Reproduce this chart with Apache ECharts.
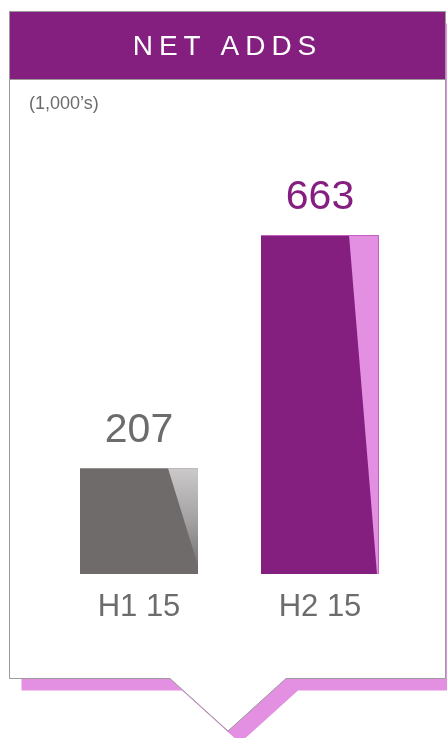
<!DOCTYPE html>
<html>
<head>
<meta charset="utf-8">
<title>Net Adds</title>
<script src="https://cdn.jsdelivr.net/npm/echarts@6/dist/echarts.min.js"></script>
<style>
  html, body { margin: 0; padding: 0; background: #ffffff; }
  #chart { width: 447px; height: 738px; }
</style>
</head>
<body>
<div id="chart"></div>
<script>
// Half-year net subscriber additions, in thousands
const categories = ['H1 15', 'H2 15'];
const netAdds = [207, 663];
const titleText = 'NET ADDS';
const unitText = '(1,000\u2019s)';

// Styling
const FONT = '"Liberation Sans", Arial, Helvetica, sans-serif';
const PURPLE = '#841F80';
const PINK = '#E38FE2';
const GREY_TEXT = '#6E6B6B';
const barColors = ['#6F6B6B', PURPLE];
const labelColors = [GREY_TEXT, PURPLE];
const BAR_W = 118;

const chart = echarts.init(document.getElementById('chart'), null, { renderer: 'canvas' });

// Callout outline: box with a downward pointer
const L = 9.5, R = 445.5, T = 11.5, B = 678.5;
const tipX = 228, tipY = 731, halfTip = 58;
function calloutPoints(dx, dy) {
  return [
    [L + dx, T + dy], [R + dx, T + dy], [R + dx, B + dy],
    [tipX + halfTip + dx, B + dy], [tipX + dx, tipY + dy], [tipX - halfTip + dx, B + dy],
    [L + dx, B + dy]
  ];
}

// Letter-spaced header title, laid out glyph by glyph
const titleSize = 28, titleSpacing = 6;
const measure = document.createElement('canvas').getContext('2d');
measure.font = titleSize + 'px ' + FONT;
const chars = titleText.split('');
const widths = chars.map(c => measure.measureText(c).width);
const totalW = widths.reduce((a, b) => a + b, 0) + titleSpacing * (chars.length - 1);
let cursor = (L + R) / 2 - 3 - totalW / 2;
const titleGlyphs = chars.map((c, i) => {
  const el = {
    type: 'text', x: cursor, y: 47, z: 5, silent: true,
    style: {
      text: c, fill: '#ffffff', font: titleSize + 'px ' + FONT,
      textAlign: 'left', textVerticalAlign: 'middle', align: 'left', verticalAlign: 'middle'
    }
  };
  cursor += widths[i] + titleSpacing;
  return el;
});

// Glossy sheen drawn over each bar
function renderSheen(params, api) {
  const idx = api.value(0);
  const top = api.coord([idx, api.value(1)]);
  const base = api.coord([idx, 0]);
  const left = top[0] - BAR_W / 2, right = top[0] + BAR_W / 2;
  const h = base[1] - top[1];
  if (idx === 0) {
    return {
      type: 'polygon',
      shape: { points: [[left + 88, top[1]], [right, top[1]], [right, top[1] + h * 0.92]] },
      style: {
        fill: new echarts.graphic.LinearGradient(0, 0, 0, 1, [
          { offset: 0, color: '#CBC9CA' },
          { offset: 0.55, color: '#A3A0A1' },
          { offset: 1, color: '#767373' }
        ])
      }
    };
  }
  return {
    type: 'group',
    children: [
      {
        type: 'polygon',
        shape: { points: [[left + 88, top[1]], [right, top[1]], [right, base[1]], [left + 116, base[1]]] },
        style: { fill: PINK }
      },
      {
        type: 'polyline',
        shape: { points: [[left, top[1] + 0.5], [right - 0.5, top[1] + 0.5], [right - 0.5, base[1]]] },
        style: { stroke: '#C561C2', lineWidth: 1, fill: null }
      }
    ]
  };
}

const option = {
  animation: false,
  backgroundColor: '#ffffff',
  grid: { left: 48.5, right: 36.5, top: 165, bottom: 164 },
  xAxis: {
    type: 'category',
    z: 10,
    data: categories,
    axisLine: { show: false },
    axisTick: { show: false },
    axisLabel: {
      show: true, interval: 0, hideOverlap: false,
      color: GREY_TEXT, fontSize: 31, fontFamily: FONT, margin: 18
    }
  },
  yAxis: { type: 'value', min: 0, max: 800, show: false, splitLine: { show: false } },
  graphic: [
    { type: 'polygon', z: 0, silent: true, shape: { points: calloutPoints(12, 12) }, style: { fill: PINK } },
    { type: 'polygon', z: 1, silent: true, shape: { points: calloutPoints(0, 0) }, style: { fill: '#ffffff', stroke: '#9C9A9B', lineWidth: 1 } },
    { type: 'rect', z: 2, silent: true, shape: { x: L, y: T, width: R - L, height: 68 }, style: { fill: PURPLE, stroke: '#9C9A9B', lineWidth: 1 } },
    ...titleGlyphs,
    {
      type: 'text', x: 29, y: 104, z: 5, silent: true,
      style: { text: unitText, fill: GREY_TEXT, font: '18px ' + FONT, textVerticalAlign: 'middle', verticalAlign: 'middle' }
    }
  ],
  series: [
    {
      type: 'bar',
      z: 10,
      barWidth: BAR_W,
      data: netAdds.map((v, i) => ({
        value: v,
        itemStyle: { color: barColors[i] },
        label: { color: labelColors[i] }
      })),
      label: { show: true, position: 'top', distance: 17, fontSize: 41, fontFamily: FONT }
    },
    {
      type: 'custom',
      z: 11,
      silent: true,
      renderItem: renderSheen,
      data: netAdds.map((v, i) => [i, v])
    }
  ]
};

chart.setOption(option);
</script>
</body>
</html>
